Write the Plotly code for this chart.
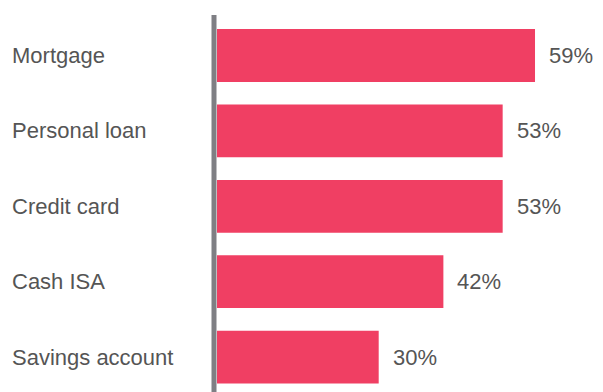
import plotly.graph_objects as go

# Share of respondents by product
categories = ["Mortgage", "Personal loan", "Credit card", "Cash ISA", "Savings account"]
values = [59, 53, 53, 42, 30]
value_labels = [f"{v}%" for v in values]

W, H = 603, 392
plot_left = 214          # left edge of the plotting area (px)
px_per_unit = 5.39       # horizontal scale, px per percentage point
zero_px = 217            # where the bars begin

x_min = -(zero_px - plot_left) / px_per_unit
x_max = (W - zero_px) / px_per_unit

bar_color = "#F03F63"
text_color = "#555555"
font_family = "Liberation Sans, Arial, sans-serif"

fig = go.Figure(
    go.Bar(
        x=values,
        y=categories,
        orientation="h",
        marker=dict(color=bar_color, line=dict(width=0)),
        width=0.70,
        hoverinfo="skip",
    )
)

# value labels to the right of each bar
for cat, v, lab in zip(categories, values, value_labels):
    fig.add_annotation(
        x=v, y=cat, xref="x", yref="y", text=lab, showarrow=False,
        xanchor="left", yanchor="middle", xshift=12,
        font=dict(family=font_family, size=22, color=text_color),
    )

# category labels, left aligned at the page edge
label_x = (10 - plot_left) / (W - plot_left)
for cat in categories:
    fig.add_annotation(
        x=label_x, y=cat, xref="paper", yref="y", text=cat, showarrow=False,
        xanchor="left", yanchor="middle",
        font=dict(family=font_family, size=22, color=text_color),
    )

# vertical baseline
fig.add_shape(
    type="line", xref="paper", yref="paper", x0=0, x1=0, y0=0, y1=1,
    line=dict(color="#7F7F84", width=5), layer="above",
)

fig.update_layout(
    width=W, height=H,
    margin=dict(l=plot_left, r=0, t=15, b=0),
    paper_bgcolor="white", plot_bgcolor="white",
    showlegend=False,
    bargap=0.3,
    xaxis=dict(range=[x_min, x_max], visible=False, fixedrange=True),
    yaxis=dict(
        type="category", categoryorder="array", categoryarray=categories,
        range=[4.463, -0.537], showticklabels=False, showgrid=False,
        zeroline=False, showline=False, ticks="", fixedrange=True,
    ),
)

fig.write_html("out.html", config={"displayModeBar": False})
